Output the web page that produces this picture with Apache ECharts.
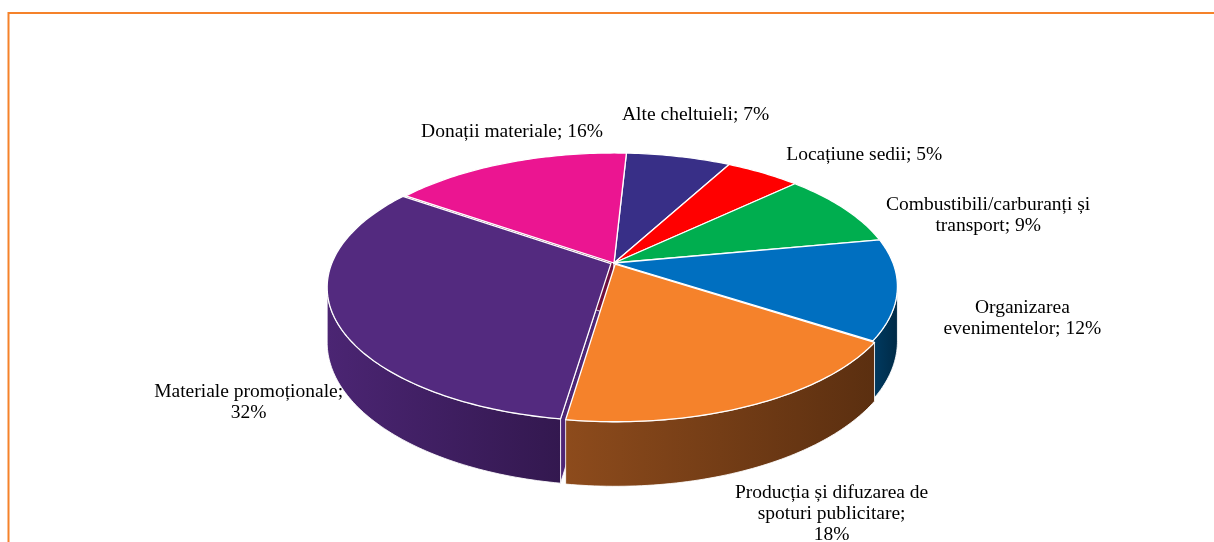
<!DOCTYPE html>
<html><head><meta charset="utf-8">
<script src="https://cdn.jsdelivr.net/npm/echarts@6/dist/echarts.min.js"></script>
<style>html,body{margin:0;padding:0;background:#fff}#c{width:1214px;height:542px}</style>
</head><body><div id="c"></div>
<script>
// ---- data ----
const categories = ['Alte cheltuieli','Locațiune sedii','Combustibili/carburanți și transport','Organizarea evenimentelor','Producția și difuzarea de spoturi publicitare','Materiale promoționale','Donații materiale'];
const values = [7, 5, 9, 12, 18, 32, 16];
const labelLines = [
  ['Alte cheltuieli; 7%'],
  ['Locațiune sedii; 5%'],
  ['Combustibili/carburanți și','transport; 9%'],
  ['Organizarea','evenimentelor; 12%'],
  ['Producția și difuzarea de','spoturi publicitare;','18%'],
  ['Materiale promoționale;','32%'],
  ['Donații materiale; 16%']
];

// ---- styling / layout ----
const topColors = ['#382F87','#FF0000','#00AE4F','#006FC0','#F5822B','#532A7F','#EB1591'];
const wallLight = ['#221C52','#990000','#006830','#003B62','#8D4B1C','#4B2573','#8E0D57'];
const wallDark  = ['#18133A','#660000','#004520','#002A46','#5B2F10','#33184F','#5E093A'];
const faceColors= ['#2A2368','#B30000','#00803A','#A8BCCE','#B8642A','#4E2676','#6E1040'];
const explode   = [0, 0, 0, 0, 0.01, 0.012, 0];
const labelNudge = [[17,-42],[101,-18],[144,7],[125,29],[81,110],[-90,84],[4,-31]];
const OFF = 3, PERS = 0.176, TH = 0.41;
const CX = 614, CY = 263, RX = 279, RY = 129.4, W = 1214, H = 542;

const total = values.reduce((a,b)=>a+b,0);
const ang = []; let acc = 0;
values.forEach(v => { const s = OFF + acc/total*360; acc += v; ang.push([s, OFF + acc/total*360]); });
const rad = d => d*Math.PI/180;
function expl(i){ const m = rad((ang[i][0]+ang[i][1])/2), e = explode[i]; return [e*Math.sin(m), e*Math.cos(m)]; }
function P3(api,u,v,t){ const d = 1+PERS*v; return api.coord([u/d, (v-TH*t)/d]); }
function arcPts(api,a,b,t,o){ const n=Math.max(2,Math.ceil(Math.abs(b-a))); const pts=[]; for(let k=0;k<=n;k++){ const th=rad(a+(b-a)*k/n); pts.push(P3(api,o[0]+Math.sin(th),o[1]+Math.cos(th),t)); } return pts; }
const VIS = Math.acos(-PERS)*180/Math.PI; // visible wall range [VIS, 360-VIS]

function renderFaces(params, api){
  const i = params.dataIndex, o = expl(i), cam = [0, -1/PERS];
  const vec = [cam[0]-o[0], cam[1]-o[1]];
  const ch = [];
  [[ang[i][0], -1],[ang[i][1], 1]].forEach(([a, sgn]) => {
    const th = rad(a);
    const n = sgn < 0 ? [-Math.cos(th), Math.sin(th)] : [Math.cos(th), -Math.sin(th)];
    if (n[0]*vec[0] + n[1]*vec[1] <= 0) return;
    const r = [o[0]+Math.sin(th), o[1]+Math.cos(th)];
    ch.push({type:'polygon', shape:{points:[P3(api,o[0],o[1],0),P3(api,r[0],r[1],0),P3(api,r[0],r[1],1),P3(api,o[0],o[1],1)]},
      style:{fill:faceColors[i], stroke:'rgba(255,255,255,0.8)', lineWidth:1}});
  });
  return {type:'group', children:ch};
}
function renderWalls(params, api){
  const i = params.dataIndex, o = expl(i);
  const a = Math.max(ang[i][0], VIS), b = Math.min(ang[i][1], 360-VIS);
  if (b <= a) return {type:'group', children:[]};
  const pts = arcPts(api,a,b,0,o).concat(arcPts(api,b,a,1,o));
  return {type:'polygon', shape:{points:pts},
    style:{fill:new echarts.graphic.LinearGradient(0,0,1,0,[{offset:0,color:wallLight[i]},{offset:1,color:wallDark[i]}]),
      stroke:'rgba(255,255,255,0.85)', lineWidth:1, lineJoin:'round'}};
}
function renderTops(params, api){
  const i = params.dataIndex, o = expl(i);
  const pts = [P3(api,o[0],o[1],0)].concat(arcPts(api,ang[i][0],ang[i][1],0,o));
  return {type:'polygon', shape:{points:pts},
    style:{fill:topColors[i], stroke:'#FFFFFF', lineWidth:1.3, lineJoin:'round'}};
}
function renderLabels(params, api){
  const i = params.dataIndex, m = rad((ang[i][0]+ang[i][1])/2);
  const p = P3(api, Math.sin(m), Math.cos(m), 0);
  return {type:'text', x:p[0]+labelNudge[i][0], y:p[1]+labelNudge[i][1],
    style:{text:labelLines[i].join('\n'), align:'center', verticalAlign:'middle',
      fontFamily:'"Liberation Serif", serif', fontSize:19.5, lineHeight:21, fill:'#000'}};
}
const data = values.map((v,i)=>[i,v]);
const chart = echarts.init(document.getElementById('c'));
chart.setOption({
  animation:false,
  grid:{left:0,right:0,top:0,bottom:0},
  xAxis:{type:'value', min:-CX/RX, max:(W-CX)/RX, show:false},
  yAxis:{type:'value', min:-(H-CY)/RY, max:CY/RY, show:false},
  graphic:[
    {type:'line', shape:{x1:8.5,y1:13,x2:1214,y2:13}, style:{stroke:'#F5822A', lineWidth:2}},
    {type:'line', shape:{x1:8.5,y1:12,x2:8.5,y2:542}, style:{stroke:'#F5822A', lineWidth:2}}
  ],
  series:[
    {type:'custom', name:'faces', renderItem:renderFaces, data:data, z:1, clip:false, silent:true},
    {type:'custom', name:'walls', renderItem:renderWalls, data:data, z:2, clip:false, silent:true},
    {type:'custom', name:'tops', renderItem:renderTops, data:data, z:3, clip:false, silent:true},
    {type:'custom', name:'labels', renderItem:renderLabels, data:data, z:4, clip:false, silent:true}
  ]
});
</script></body></html>
